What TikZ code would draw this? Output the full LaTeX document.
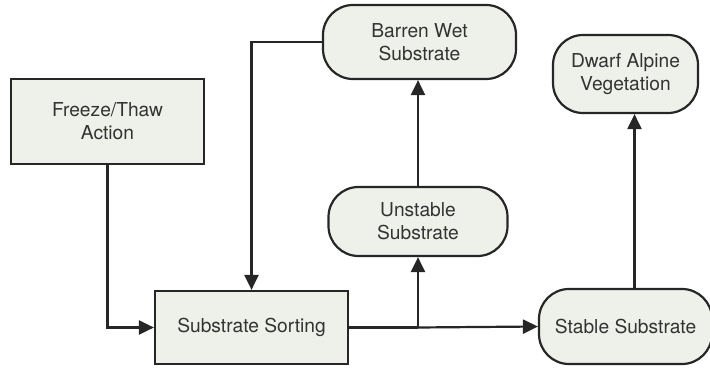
\documentclass[tikz,border=0pt]{standalone}
\usepackage{fontspec}
\setmainfont{TeX Gyre Heros}
\usetikzlibrary{arrows.meta}

\definecolor{boxfill}{HTML}{EEF1EA}
\definecolor{linecol}{HTML}{262626}
\definecolor{textcol}{HTML}{333333}

\tikzset{
    sqbox/.style={draw=linecol, fill=boxfill, line width=1.1pt, inner sep=0pt,
        align=center, text=textcol, font=\fontsize{9.6}{11.5}\selectfont},
    rdbox/.style={sqbox, rounded corners=15pt},
    link/.style={draw=linecol, line width=1.1pt},
    arr/.style={link, -{Triangle[length=7.5pt,width=7pt]}}
}

\begin{document}
\begin{tikzpicture}[x=0.5pt, y=-0.5pt]

        \useasboundingbox (0,0) rectangle (710,368);

        % boxes:
        \node(FTA)[sqbox, minimum width=96.5pt, minimum height=42.5pt] at (107.5,121.5) {Freeze/Thaw\\Action};
        \node(SSO)[sqbox, minimum width=96.5pt, minimum height=36.5pt] at (251.5,327.5) {Substrate Sorting};
        \node(BWS)[rdbox, minimum width=96.5pt, minimum height=37pt] at (419.5,42) {Barren Wet\\Substrate};
        \node(UNS)[rdbox, minimum width=89.5pt, minimum height=34.5pt] at (418,221.5) {Unstable\\Substrate};
        \node(STS)[rdbox, minimum width=86.5pt, minimum height=37.5pt] at (625.5,326.5) {Stable Substrate};
        \node(DAV)[rdbox, minimum width=72.5pt, minimum height=39pt] at (625.5,74) {Dwarf Alpine\\Vegetation};

        % junction on the sorting output:
        \coordinate(JNC) at (UNS.south |- SSO.east);

        % connectors:
        \draw[arr] (FTA.south) |- (SSO.west);
        \draw[arr] (BWS.west) -| (SSO.north);
        \draw[link] (SSO.east) -- (JNC);
        \draw[arr] (JNC) -- (STS.west);
        \draw[arr] (JNC) -- (UNS.south);
        \draw[arr] (UNS.north) -- (UNS.north |- BWS.south);
        \draw[arr] ([xshift=4.5pt]STS.north) -- ([xshift=4.5pt]DAV.south);

    \end{tikzpicture}
\end{document}
